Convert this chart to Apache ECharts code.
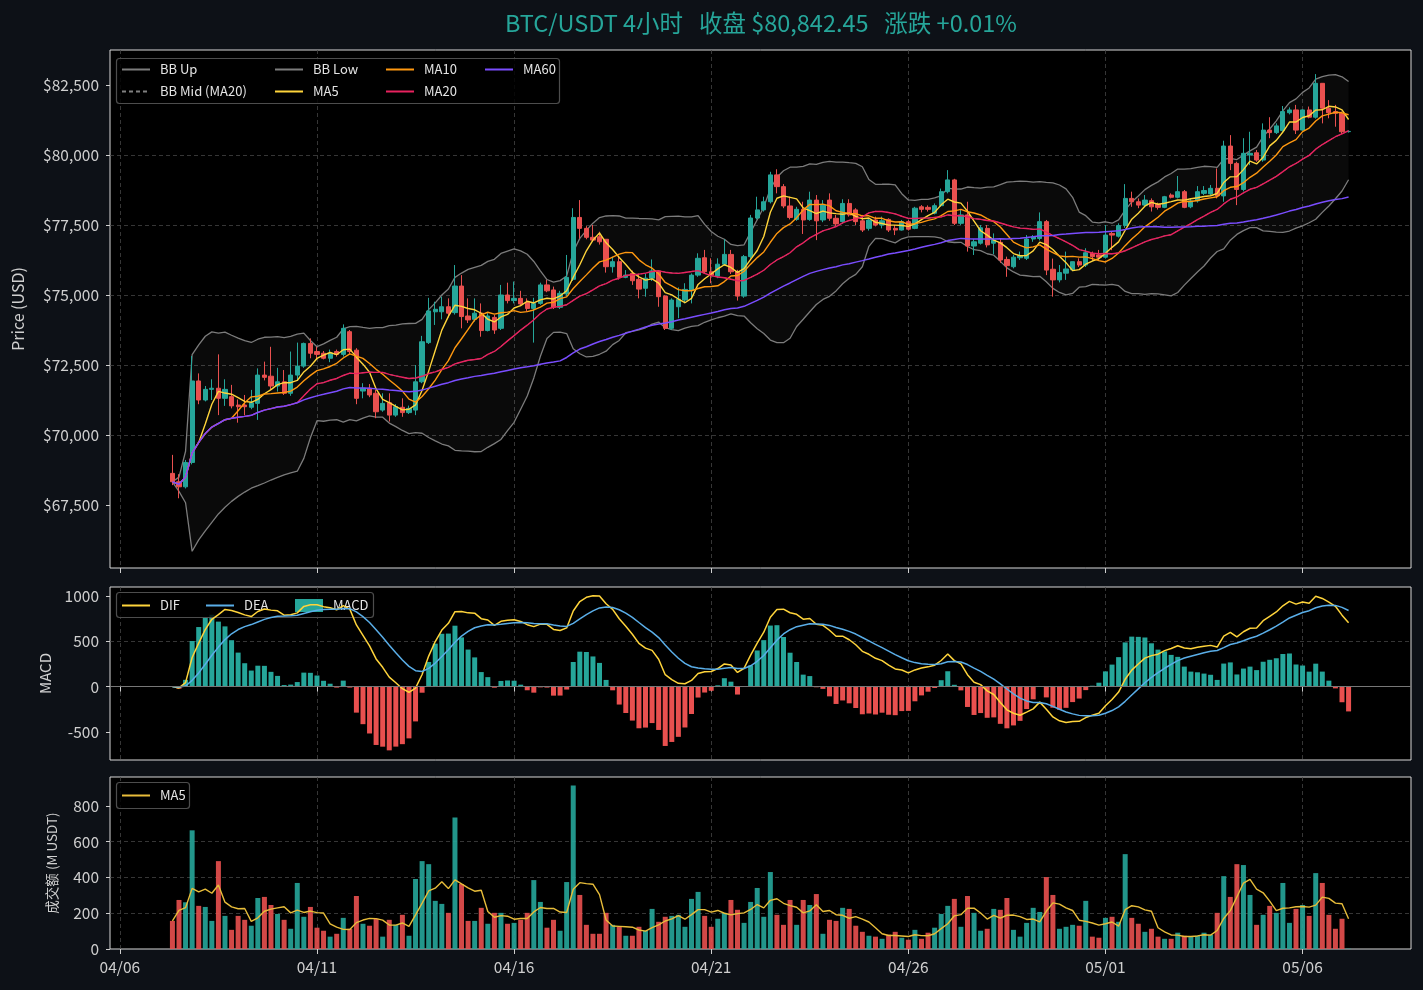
<!DOCTYPE html>
<html>
<head>
<meta charset="utf-8">
<script src="https://cdn.jsdelivr.net/npm/echarts@6/dist/echarts.min.js"></script>
<style>
  html, body { margin: 0; background: #0d1117; }
  #chart { width: 1423px; height: 990px; }
</style>
</head>
<body>
<div id="chart"></div>
<script>
// 4h candles, first one at 04/07 08:00, last (still open) at 05/07 04:00
// rows are [open, close, low, high]
const ohlc = [
  [68630,68330,68210,69290],[68330,68150,67740,68600],[68150,69020,68090,69110],[69020,71930,68950,72820],
  [71930,71250,71100,72200],[71250,71630,71200,71750],[71630,71670,71250,71990],[71670,71310,70710,72880],
  [71310,71630,71040,71990],[71370,71040,70950,71790],[71070,71010,70440,71270],[71070,71010,70700,71430],
  [70990,71150,70920,71610],[71130,72140,70540,72380],[72140,72060,71950,72620],[72100,71750,71600,73150],
  [71750,71900,71550,72400],[71900,71490,71430,72320],[71490,72140,71400,72980],[72140,72460,71950,73300],
  [72460,73270,72400,73300],[73270,72920,72740,73450],[72980,72880,72700,73150],[72920,72740,72700,73000],
  [72740,72920,72600,73050],[72980,72880,72800,73050],[72880,73810,72800,73950],[73690,72980,72900,73750],
  [73030,71310,71100,73100],[71570,71670,71310,71850],[71670,71430,71350,71820],[71490,70830,70600,71610],
  [70890,71130,70830,71490],[71150,70710,70480,71490],[70710,71010,70650,71100],[70990,70800,70650,71310],
  [70800,70950,70750,71050],[70890,71900,70710,72500],[71900,73330,71850,73540],[73300,74430,73250,74900],
  [74400,74490,73930,74760],[74400,74580,74130,74940],[74580,74350,74200,74880],[74370,75320,74300,76070],
  [75320,74230,73810,75710],[74250,74110,74000,74880],[74130,74350,74050,74880],[74350,73730,73510,74700],
  [73730,74250,73700,74350],[74200,73750,73610,74290],[73810,75000,73750,75360],[75000,74800,74700,75440],
  [74800,74880,74700,75480],[74880,74680,74600,75150],[74730,74520,74400,74880],[74520,74700,73300,74900],
  [74700,75360,74650,75440],[75360,75150,75100,75540],[75180,74560,74500,75300],[74560,75060,74500,75150],
  [75040,75630,74950,76430],[75560,77770,75500,78100],[77770,77380,77020,78390],[77380,77060,76990,77460],
  [77060,76960,76900,77500],[77080,76900,76800,77260],[76990,76010,75800,76990],[76010,76190,75800,76370],
  [76190,75630,75550,76370],[75630,75710,75600,75890],[75770,75510,75360,75870],[75560,75210,74880,75770],
  [75240,75600,74940,75770],[75600,75860,75500,76270],[75860,74940,74580,75890],[74960,73810,73750,74990],
  [73810,74820,73750,74880],[74580,74850,74170,75270],[74820,75200,74700,75420],[75180,75710,74700,75770],
  [75710,76310,75650,76490],[76330,75830,75750,76610],[75830,75710,75420,76310],[75680,76100,75600,76310],
  [76100,76450,76050,76990],[76450,75830,75750,76610],[75830,74960,74800,75900],[74960,76370,74900,76430],
  [76370,77750,76300,77860],[77750,78040,77700,78510],[78040,78330,77980,78510],[78330,79290,78270,79400],
  [79290,78870,78630,79490],[78870,78180,78100,78960],[78180,77770,77700,78510],[77700,78060,77650,78150],
  [78060,77680,77180,78330],[77700,78390,77650,78690],[78390,77650,76960,78570],[77680,78210,77600,78390],
  [78390,77740,77650,78630],[77740,77540,77450,77860],[77620,78270,77550,78420],[78270,77860,77800,78420],
  [78040,77620,77500,78100],[77650,77320,77250,77860],[77380,77680,77300,77740],[77680,77500,77450,77800],
  [77500,77650,77380,77800],[77700,77320,77250,77740],[77380,77320,77140,77500],[77320,77620,77300,77680],
  [77620,77350,77300,77680],[77380,78100,77350,78150],[78150,78060,77950,78210],[78130,78060,77980,78200],
  [77920,78190,77880,78270],[78190,78690,78150,78800],[78690,79110,78630,79460],[79110,77560,77500,79150],
  [77560,77860,77500,78040],[77860,76750,76550,78330],[76750,76900,76430,76990],[76850,77400,76800,77500],
  [77380,76790,76700,77500],[76850,76960,76460,77200],[76880,76250,76150,77020],[76270,76050,75650,76370],
  [76010,76350,75950,76430],[76330,76400,76250,76550],[76310,77000,76250,77140],[77000,77080,76900,77140],
  [77020,77620,76950,77950],[77620,75890,75710,77680],[75920,75540,74940,76300],[75540,75800,75450,76070],
  [75780,75930,75540,76550],[75900,76190,75850,76190],[76190,76070,76000,76310],[76070,76510,76000,76670],
  [76490,76370,76250,76550],[76430,76350,76250,76610],[76350,77140,76300,77500],[77200,77140,76600,77260],
  [77100,77480,77050,77560],[77480,78450,77400,78960],[78450,78330,78150,78690],[78330,78210,78100,78450],
  [78210,78390,78150,78570],[78370,78150,77980,78450],[78240,78130,78050,78300],[78130,78510,78100,78540],
  [78570,78490,78450,78630],[78490,78690,78450,79250],[78690,78130,78100,78750],[78150,78360,78100,78450],
  [78360,78690,78300,78890],[78630,78730,78570,78890],[78610,78810,78570,78930],[78810,78540,78450,79520],
  [78540,80320,78330,80510],[80320,79700,79460,80710],[79700,78770,78210,79760],[78770,80060,78700,80600],
  [80000,80060,79640,80830],[80080,79820,79760,80180],[79820,80890,79760,81130],[80890,80800,80600,81350],
  [80800,81040,80750,81130],[80870,81550,80830,81750],[81510,81610,81450,81700],[81610,80890,80750,81790],
  [80890,81610,80870,81630],[81610,81350,81310,81730],[81350,82560,81300,82890],[82560,81670,81130,82560],
  [81670,81510,81310,81960],[81550,81490,81010,81790],[81490,80830,80750,81550],[80834,80842.45,80800,80880]
];

// turnover per candle, M USDT
const volume = [
  157,274,261,663,241,235,157,491,185,107,185,163,130,285,291,246,196,163,113,369,
  180,235,119,102,69,85,174,113,296,141,130,169,69,163,135,191,74,391,491,474,
  269,252,202,735,363,157,157,230,141,202,202,141,146,163,202,385,263,119,163,102,
  374,913,302,135,85,85,202,135,124,74,74,124,102,224,152,180,185,191,124,280,
  319,185,124,169,202,274,219,146,263,341,180,430,191,135,274,135,274,246,307,85,
  163,157,230,224,130,96,74,69,57,80,96,63,52,107,57,91,119,196,241,280,
  124,296,202,102,113,224,219,285,107,69,146,230,207,402,302,113,124,135,130,269,
  69,63,174,180,152,530,174,141,96,113,69,57,57,91,74,69,74,91,80,202,
  407,291,474,469,302,135,191,241,202,369,146,224,246,185,424,369,191,113,169,2
];

const priceTicks = [67500, 70000, 72500, 75000, 77500, 80000, 82500];
const macdTicks = [-500, 0, 500, 1000];
const volTicks = [0, 200, 400, 600, 800];
const tickDays = ['04/06', '04/11', '04/16', '04/21', '04/26', '05/01', '05/06'];

const UP = '#26a69a', DOWN = '#e9504f';
const FONT = '"Noto Sans CJK SC", "Noto Sans", sans-serif';

// x axis: 4h slots from 04/05 20:00, candles start at slot 9
const slotCount = 198, firstSlot = 9;
const t0 = Date.UTC(2025, 3, 5, 20);
const two = n => String(n).padStart(2, '0');
const categories = [];
for (let i = 0; i < slotCount; i++) {
  const d = new Date(t0 + i * 4 * 3600 * 1000);
  categories.push(two(d.getUTCMonth() + 1) + '/' + two(d.getUTCDate()) + ' ' + two(d.getUTCHours()) + ':00');
}
const isTick = (idx, val) => val.endsWith(' 00:00') && tickDays.includes(val.slice(0, 5));
const pad = arr => {
  const out = new Array(slotCount).fill('-');
  arr.forEach((v, i) => { out[firstSlot + i] = v; });
  return out;
};

// indicators
const closes = ohlc.map(d => d[1]);
function sma(src, n) {
  return src.map((_, i) => {
    const w = src.slice(Math.max(0, i - n + 1), i + 1);
    return w.reduce((a, b) => a + b, 0) / w.length;
  });
}
function stdev(src, n) {
  return src.map((_, i) => {
    const w = src.slice(Math.max(0, i - n + 1), i + 1);
    if (w.length < 2) return 0;
    const m = w.reduce((a, b) => a + b, 0) / w.length;
    return Math.sqrt(w.reduce((a, b) => a + (b - m) * (b - m), 0) / (w.length - 1));
  });
}
function ema(src, n) {
  const k = 2 / (n + 1), out = [];
  src.forEach((v, i) => out.push(i ? out[i - 1] + k * (v - out[i - 1]) : v));
  return out;
}
const r2 = v => Math.round(v * 100) / 100;
const ma5 = sma(closes, 5), ma10 = sma(closes, 10), ma20 = sma(closes, 20), ma60 = sma(closes, 60);
const sd20 = stdev(closes, 20);
const bbUp = ma20.map((m, i) => m + 2 * sd20[i]);
const bbLow = ma20.map((m, i) => m - 2 * sd20[i]);
const ema12 = ema(closes, 12), ema26 = ema(closes, 26);
const dif = ema12.map((v, i) => v - ema26[i]);
const dea = ema(dif, 9);
const hist = dif.map((v, i) => 2 * (v - dea[i]));
const volMa5 = sma(volume, 5);

const main = document.getElementById('chart');
const myChart = echarts.init(main, null, { renderer: 'canvas' });

const gridLine = { lineStyle: { color: '#444', type: [4, 3], width: 0.8 } };
const axisText = { color: '#cfcfcf', fontFamily: FONT };

function xAxisFor(gridIndex, showLabel) {
  return {
    type: 'category', gridIndex: gridIndex, data: categories, boundaryGap: true,
    axisLine: { show: false },
    axisTick: { show: true, alignWithLabel: true, interval: isTick, length: 5, lineStyle: { color: '#cfcfcf' } },
    axisLabel: Object.assign({ show: showLabel, interval: isTick, formatter: v => v.slice(0, 5), fontSize: 15.5, margin: 10 }, axisText),
    splitLine: Object.assign({ show: true, interval: isTick, alignWithLabel: true }, gridLine)
  };
}
function yAxisFor(gridIndex, min, max, ticks, fmt, name, gap, nameSize) {
  return {
    type: 'value', gridIndex: gridIndex, min: min, max: max,
    axisLine: { show: false },
    axisTick: { show: true, length: 4, customValues: ticks, lineStyle: { color: '#cfcfcf' } },
    axisLabel: Object.assign({ customValues: ticks, formatter: fmt, fontSize: 15.5, margin: 11 }, axisText),
    splitLine: Object.assign({ showMinLine: false, showMaxLine: false }, gridLine),
    name: name, nameLocation: 'middle', nameGap: gap,
    nameTextStyle: Object.assign({ fontSize: nameSize }, axisText)
  };
}

const lineSeries = (name, data, color, width, extra) => Object.assign({
  name: name, type: 'line', xAxisIndex: 0, yAxisIndex: 0, data: pad(data.map(r2)),
  symbol: 'none', smooth: false, lineStyle: { color: color, width: width }, itemStyle: { color: color },
  z: 4, silent: true
}, extra || {});

// line legends: hide the marker, keep the stroke
const legendBase = {
  orient: 'vertical', itemWidth: 28, itemHeight: 12, itemGap: 9, selectedMode: false,
  itemStyle: { opacity: 0 },
  textStyle: { color: '#e4e4e4', fontSize: 13, fontFamily: FONT, padding: [0, 0, 0, 5] }
};

option = {
  backgroundColor: '#0d1117',
  animation: false,
  title: {
    text: 'BTC/USDT 4小时   收盘 $80,842.45   涨跌 +0.01%',
    left: 756, top: 6, textAlign: 'center',
    textStyle: { color: UP, fontSize: 23.5, fontWeight: 'normal', fontFamily: FONT }
  },
  graphic: [
    { type: 'rect', z: 3, shape: { x: 116.5, y: 58.5, width: 443, height: 45, r: 3 }, style: { fill: 'rgba(0,0,0,0.82)', stroke: '#4d4d4d', lineWidth: 1.2 } },
    { type: 'rect', z: 3, shape: { x: 116.5, y: 592.5, width: 257, height: 25, r: 3 }, style: { fill: 'rgba(0,0,0,0.82)', stroke: '#4d4d4d', lineWidth: 1.2 } },
    { type: 'rect', z: 3, shape: { x: 116.5, y: 782.5, width: 73, height: 26, r: 3 }, style: { fill: 'rgba(0,0,0,0.82)', stroke: '#4d4d4d', lineWidth: 1.2 } }
  ],
  legend: [
    Object.assign({}, legendBase, { left: 116, top: 58, data: ['BB Up', 'BB Mid (MA20)'] }),
    Object.assign({}, legendBase, { left: 269, top: 58, data: ['BB Low', 'MA5'] }),
    Object.assign({}, legendBase, { left: 380, top: 58, data: ['MA10', 'MA20'] }),
    Object.assign({}, legendBase, { left: 479, top: 58, data: ['MA60'] }),
    Object.assign({}, legendBase, { left: 116, top: 594, data: ['DIF'] }),
    Object.assign({}, legendBase, { left: 200, top: 594, data: ['DEA'] }),
    Object.assign({}, legendBase, { left: 290, top: 594, itemHeight: 13, itemStyle: { opacity: 1 }, data: [{ name: 'MACD', icon: 'rect' }] }),
    Object.assign({}, legendBase, { left: 116, top: 784, data: ['MA5 '] })
  ],
  grid: [
    { left: 110, right: 12, top: 50, height: 518, show: true, backgroundColor: '#000', borderColor: '#d8d8d8', borderWidth: 1 },
    { left: 110, right: 12, top: 587, height: 173, show: true, backgroundColor: '#000', borderColor: '#d8d8d8', borderWidth: 1 },
    { left: 110, right: 12, top: 777, height: 172, show: true, backgroundColor: '#000', borderColor: '#d8d8d8', borderWidth: 1 }
  ],
  xAxis: [xAxisFor(0, false), xAxisFor(1, false), xAxisFor(2, true)],
  yAxis: [
    yAxisFor(0, 65250, 83750, priceTicks, v => '$' + v.toLocaleString('en-US'), 'Price (USD)', 84, 16),
    yAxisFor(1, -810, 1100, macdTicks, v => String(v), 'MACD', 57, 15),
    yAxisFor(2, 0, 961, volTicks, v => String(v), '成交额 (M USDT)', 51, 13.5)
  ],
  series: [
    // Bollinger band fill
    { name: 'bandBase', type: 'line', data: pad(bbLow.map(r2)), stack: 'bb', symbol: 'none',
      lineStyle: { opacity: 0 }, z: 1, silent: true },
    { name: 'band', type: 'line', data: pad(bbUp.map((u, i) => r2(u - bbLow[i]))), stack: 'bb', symbol: 'none',
      lineStyle: { opacity: 0 }, areaStyle: { color: 'rgba(255,255,255,0.055)' }, z: 1, silent: true },
    lineSeries('BB Up', bbUp, '#7c7c7c', 1.3, { z: 2 }),
    lineSeries('BB Mid (MA20)', ma20, '#808080', 1, { z: 2, lineStyle: { color: '#808080', width: 1, type: [4, 3] } }),
    lineSeries('BB Low', bbLow, '#7c7c7c', 1.3, { z: 2 }),
    {
      name: 'K', type: 'candlestick', xAxisIndex: 0, yAxisIndex: 0, data: pad(ohlc), barWidth: '72%', z: 3,
      itemStyle: { color: UP, color0: DOWN, borderColor: UP, borderColor0: DOWN, borderWidth: 1 }
    },
    lineSeries('MA5', ma5, '#ffd43b', 1.4),
    lineSeries('MA10', ma10, '#ff9810', 1.4),
    lineSeries('MA20', ma20, '#e8225f', 1.4),
    lineSeries('MA60', ma60, '#7a4dff', 1.5),

    // MACD
    {
      name: 'MACD', type: 'bar', xAxisIndex: 1, yAxisIndex: 1, barWidth: '76%', itemStyle: { color: UP },
      data: pad(hist.map(v => ({ value: r2(v), itemStyle: { color: v >= 0 ? UP : DOWN } }))),
      markLine: { silent: true, symbol: 'none', label: { show: false },
        lineStyle: { color: '#777', type: 'solid', width: 1 }, data: [{ yAxis: 0 }] }
    },
    { name: 'DIF', type: 'line', xAxisIndex: 1, yAxisIndex: 1, data: pad(dif.map(r2)), symbol: 'none',
      lineStyle: { color: '#ffd43b', width: 1.5 }, itemStyle: { color: '#ffd43b' }, z: 4 },
    { name: 'DEA', type: 'line', xAxisIndex: 1, yAxisIndex: 1, data: pad(dea.map(r2)), symbol: 'none',
      lineStyle: { color: '#5aaee8', width: 1.5 }, itemStyle: { color: '#5aaee8' }, z: 4 },

    // turnover
    {
      name: 'Vol', type: 'bar', xAxisIndex: 2, yAxisIndex: 2, barWidth: '76%',
      data: pad(volume.map((v, i) => ({ value: v, itemStyle: { color: ohlc[i][1] >= ohlc[i][0] ? UP : DOWN, opacity: 0.9 } })))
    },
    { name: 'MA5 ', type: 'line', xAxisIndex: 2, yAxisIndex: 2, data: pad(volMa5.map(r2)), symbol: 'none',
      lineStyle: { color: '#e8bd3a', width: 1.4 }, itemStyle: { color: '#e8bd3a' }, z: 4 }
  ]
};

option && myChart.setOption(option);
</script>
</body>
</html>
